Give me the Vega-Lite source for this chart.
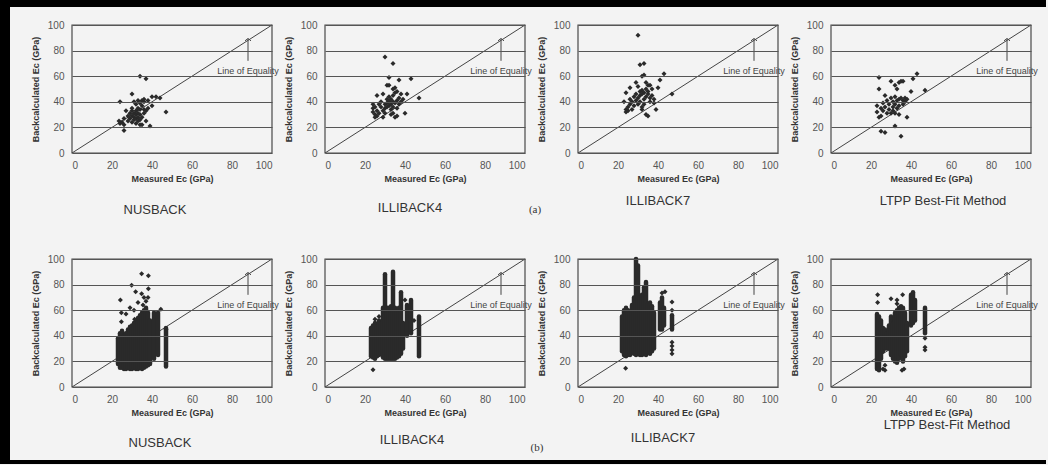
{
"$schema": "https://vega.github.io/schema/vega-lite/v6.json",
"background": "#f3f3f3",
"padding": {"left": 0, "top": 0, "right": 2, "bottom": 0},
"datasets": {
"a1": [{"x":24,"y":40},{"x":23.5,"y":25},{"x":24,"y":23},{"x":25,"y":24},{"x":26,"y":22},{"x":26,"y":17.5},{"x":26,"y":27},{"x":27,"y":33},{"x":28,"y":29},{"x":28,"y":25},{"x":29,"y":31},{"x":29,"y":27},{"x":30,"y":46},{"x":30,"y":35},{"x":30,"y":33},{"x":30,"y":29},{"x":30,"y":24},{"x":31,"y":40},{"x":31,"y":31},{"x":31,"y":28},{"x":31,"y":26},{"x":32,"y":38},{"x":32,"y":33},{"x":32,"y":30},{"x":32,"y":27},{"x":32,"y":23},{"x":33,"y":41},{"x":33,"y":35},{"x":33,"y":31},{"x":33,"y":28},{"x":33,"y":25},{"x":34,"y":60},{"x":34,"y":39},{"x":34,"y":34},{"x":34,"y":30},{"x":34,"y":26},{"x":34,"y":22},{"x":35,"y":41},{"x":35,"y":37},{"x":35,"y":28},{"x":35,"y":22},{"x":36,"y":42},{"x":36,"y":40},{"x":36,"y":34},{"x":36,"y":31},{"x":37,"y":58},{"x":37,"y":33},{"x":37,"y":25},{"x":38,"y":41},{"x":38,"y":35},{"x":39,"y":21},{"x":40,"y":37},{"x":40,"y":44},{"x":42,"y":44},{"x":44,"y":43},{"x":47,"y":32}],
"a2": [{"x":24,"y":38},{"x":24,"y":35},{"x":24,"y":32},{"x":25,"y":30},{"x":25,"y":28},{"x":25,"y":36},{"x":26,"y":45},{"x":26,"y":33},{"x":26,"y":29},{"x":27,"y":38},{"x":27,"y":31},{"x":28,"y":36},{"x":28,"y":40},{"x":29,"y":46},{"x":29,"y":33},{"x":29,"y":28},{"x":30,"y":75},{"x":30,"y":38},{"x":30,"y":35},{"x":30,"y":31},{"x":31,"y":53},{"x":31,"y":42},{"x":31,"y":39},{"x":31,"y":36},{"x":32,"y":59},{"x":32,"y":53},{"x":32,"y":44},{"x":32,"y":40},{"x":32,"y":37},{"x":33,"y":42},{"x":33,"y":38},{"x":33,"y":34},{"x":34,"y":70},{"x":34,"y":50},{"x":34,"y":45},{"x":34,"y":40},{"x":34,"y":36},{"x":34,"y":31},{"x":35,"y":51},{"x":35,"y":47},{"x":35,"y":39},{"x":35,"y":28},{"x":36,"y":48},{"x":36,"y":41},{"x":36,"y":29},{"x":37,"y":57},{"x":37,"y":43},{"x":37,"y":38},{"x":38,"y":46},{"x":38,"y":40},{"x":39,"y":42},{"x":40,"y":31},{"x":41,"y":46},{"x":43,"y":58},{"x":47,"y":43},{"x":36,"y":35},{"x":33,"y":30}],
"a3": [{"x":23,"y":40},{"x":24,"y":34},{"x":24,"y":32},{"x":24,"y":47},{"x":25,"y":36},{"x":25,"y":33},{"x":26,"y":51},{"x":26,"y":42},{"x":26,"y":38},{"x":27,"y":34},{"x":27,"y":40},{"x":28,"y":44},{"x":28,"y":37},{"x":29,"y":55},{"x":29,"y":46},{"x":29,"y":41},{"x":30,"y":92},{"x":30,"y":52},{"x":30,"y":43},{"x":30,"y":38},{"x":31,"y":69},{"x":31,"y":48},{"x":31,"y":45},{"x":31,"y":40},{"x":32,"y":60},{"x":32,"y":49},{"x":32,"y":46},{"x":32,"y":34},{"x":33,"y":61},{"x":33,"y":70},{"x":33,"y":47},{"x":33,"y":42},{"x":33,"y":38},{"x":34,"y":55},{"x":34,"y":50},{"x":34,"y":44},{"x":34,"y":30},{"x":35,"y":53},{"x":35,"y":46},{"x":35,"y":29},{"x":36,"y":53},{"x":36,"y":43},{"x":36,"y":40},{"x":37,"y":50},{"x":37,"y":45},{"x":38,"y":42},{"x":38,"y":39},{"x":39,"y":34},{"x":40,"y":51},{"x":41,"y":57},{"x":43,"y":62},{"x":47,"y":46},{"x":35,"y":48},{"x":32,"y":36}],
"a4": [{"x":23,"y":32},{"x":23,"y":37},{"x":24,"y":59},{"x":24,"y":50},{"x":24,"y":28},{"x":25,"y":29},{"x":25,"y":17},{"x":25,"y":35},{"x":26,"y":39},{"x":26,"y":33},{"x":27,"y":16},{"x":27,"y":45},{"x":27,"y":36},{"x":28,"y":41},{"x":28,"y":31},{"x":29,"y":38},{"x":29,"y":34},{"x":30,"y":56},{"x":30,"y":43},{"x":30,"y":31},{"x":31,"y":40},{"x":31,"y":36},{"x":31,"y":33},{"x":32,"y":53},{"x":32,"y":44},{"x":32,"y":38},{"x":32,"y":31},{"x":32,"y":21},{"x":33,"y":50},{"x":33,"y":41},{"x":33,"y":35},{"x":34,"y":55},{"x":34,"y":42},{"x":34,"y":37},{"x":34,"y":30},{"x":35,"y":56},{"x":35,"y":43},{"x":35,"y":13},{"x":36,"y":56},{"x":36,"y":41},{"x":36,"y":38},{"x":37,"y":43},{"x":37,"y":40},{"x":38,"y":28},{"x":38,"y":42},{"x":40,"y":48},{"x":41,"y":58},{"x":43,"y":62},{"x":47,"y":49}],
"b1s": [{"x":23,"lo":18,"hi":38},{"x":24,"lo":15,"hi":42},{"x":25,"lo":15,"hi":44},{"x":26,"lo":14,"hi":40},{"x":27,"lo":14,"hi":42},{"x":28,"lo":15,"hi":45},{"x":29,"lo":14,"hi":47},{"x":30,"lo":14,"hi":48},{"x":31,"lo":15,"hi":50},{"x":32,"lo":14,"hi":52},{"x":33,"lo":14,"hi":54},{"x":34,"lo":15,"hi":56},{"x":35,"lo":14,"hi":58},{"x":36,"lo":15,"hi":60},{"x":37,"lo":16,"hi":62},{"x":38,"lo":17,"hi":58},{"x":39,"lo":18,"hi":52},{"x":41,"lo":22,"hi":58},{"x":43,"lo":25,"hi":58},{"x":47,"lo":16,"hi":46}],
"b1p": [{"x":34.8,"y":88.5},{"x":38.2,"y":87},{"x":29.8,"y":79.4},{"x":31.8,"y":74.5},{"x":34.8,"y":72.9},{"x":38.2,"y":76.8},{"x":24.2,"y":68},{"x":24.7,"y":58},{"x":24.7,"y":51},{"x":31.3,"y":52.9},{"x":44.4,"y":60.7},{"x":47,"y":45},{"x":36,"y":70},{"x":33,"y":66},{"x":37,"y":67},{"x":29,"y":62},{"x":27,"y":57},{"x":35.5,"y":64},{"x":38,"y":70},{"x":31,"y":60}],
"b2s": [{"x":23,"lo":24,"hi":46},{"x":24,"lo":23,"hi":48},{"x":25,"lo":22,"hi":50},{"x":26,"lo":24,"hi":47},{"x":27,"lo":25,"hi":52},{"x":28,"lo":26,"hi":50},{"x":29,"lo":23,"hi":62},{"x":30,"lo":22,"hi":88},{"x":31,"lo":22,"hi":62},{"x":32,"lo":22,"hi":62},{"x":33,"lo":22,"hi":63},{"x":34,"lo":22,"hi":90},{"x":35,"lo":22,"hi":62},{"x":36,"lo":23,"hi":60},{"x":37,"lo":24,"hi":62},{"x":38,"lo":26,"hi":74},{"x":39,"lo":30,"hi":50},{"x":41,"lo":40,"hi":64},{"x":43,"lo":42,"hi":68},{"x":47,"lo":24,"hi":55}],
"b2p": [{"x":24,"y":13.5},{"x":44.5,"y":52},{"x":40,"y":68},{"x":27,"y":55},{"x":25,"y":53}],
"b3s": [{"x":22,"lo":28,"hi":55},{"x":23,"lo":25,"hi":60},{"x":24,"lo":24,"hi":62},{"x":25,"lo":25,"hi":60},{"x":26,"lo":25,"hi":58},{"x":27,"lo":27,"hi":64},{"x":28,"lo":26,"hi":70},{"x":29,"lo":25,"hi":100},{"x":30,"lo":26,"hi":95},{"x":31,"lo":25,"hi":70},{"x":32,"lo":25,"hi":72},{"x":33,"lo":26,"hi":78},{"x":34,"lo":25,"hi":82},{"x":35,"lo":27,"hi":65},{"x":36,"lo":26,"hi":66},{"x":37,"lo":28,"hi":63},{"x":38,"lo":30,"hi":58},{"x":41,"lo":45,"hi":66},{"x":42,"lo":45,"hi":70},{"x":43,"lo":48,"hi":62},{"x":47,"lo":45,"hi":56}],
"b3p": [{"x":42,"y":73.5},{"x":43.5,"y":74.5},{"x":47,"y":66.4},{"x":47,"y":35},{"x":47,"y":32},{"x":47,"y":29},{"x":47,"y":26},{"x":23.8,"y":14.7},{"x":47,"y":60}],
"b4s": [{"x":23,"lo":14,"hi":57},{"x":24,"lo":13,"hi":55},{"x":25,"lo":22,"hi":52},{"x":26,"lo":28,"hi":46},{"x":27,"lo":30,"hi":45},{"x":28,"lo":30,"hi":42},{"x":29,"lo":30,"hi":48},{"x":30,"lo":25,"hi":55},{"x":31,"lo":22,"hi":50},{"x":32,"lo":20,"hi":58},{"x":33,"lo":19,"hi":60},{"x":34,"lo":22,"hi":62},{"x":35,"lo":25,"hi":63},{"x":36,"lo":20,"hi":62},{"x":37,"lo":24,"hi":58},{"x":38,"lo":28,"hi":50},{"x":40,"lo":48,"hi":72},{"x":41,"lo":50,"hi":74},{"x":42,"lo":52,"hi":68},{"x":47,"lo":42,"hi":62}],
"b4p": [{"x":23.3,"y":72},{"x":23.3,"y":66},{"x":30,"y":69},{"x":33,"y":68},{"x":35.8,"y":72},{"x":35.5,"y":13},{"x":36.5,"y":14},{"x":47,"y":31},{"x":47,"y":29},{"x":47,"y":38},{"x":26,"y":14},{"x":27,"y":17},{"x":27,"y":13},{"x":33,"y":65}]
},
"columns": 4,
"spacing": {"row": 106, "column": 53},
"bounds": "flush",
"concat": [
{"width":200,"height":128,"layer":[
 {"data":{"values":[{}]},"mark":{"type":"rect","fill":"black"},"encoding":{"x":{"datum":-36,"type":"quantitative","scale":{"domain":[0,100]}},"x2":{"datum":-31},"y":{"datum":119.53,"type":"quantitative","scale":{"domain":[0,100]}},"y2":{"datum":-242.97}}},
 {"data":{"values":[{}]},"mark":{"type":"rect","fill":"black"},"encoding":{"x":{"datum":-36,"type":"quantitative","scale":{"domain":[0,100]}},"x2":{"datum":487},"y":{"datum":119.53,"type":"quantitative","scale":{"domain":[0,100]}},"y2":{"datum":114.06}}},
 {"data":{"values":[{}]},"mark":{"type":"rect","fill":"black"},"encoding":{"x":{"datum":-36,"type":"quantitative","scale":{"domain":[0,100]}},"x2":{"datum":487},"y":{"datum":-239.84,"type":"quantitative","scale":{"domain":[0,100]}},"y2":{"datum":-242.97}}},
 {"data":{"values":[{}]},"mark":{"type":"rect","fill":null,"stroke":"#4a4a4a","strokeWidth":1.2},"encoding":{"x":{"datum":0,"type":"quantitative","scale":{"domain":[0,100]},"axis":{"values":[0,20,40,60,80,100],"tickCount":6,"zindex":1,"title":"Measured Ec (GPa)"}},"x2":{"datum":100},"y":{"datum":0,"type":"quantitative","scale":{"domain":[0,100]},"axis":{"values":[0,20,40,60,80,100],"tickCount":6,"zindex":1,"title":"Backcalculated Ec (GPa)"}},"y2":{"datum":100}}},
 {"data":{"values":[{}]},"mark":{"type":"rule"},"encoding":{"x":{"datum":0,"type":"quantitative"},"y":{"datum":0,"type":"quantitative"},"x2":{"datum":100},"y2":{"datum":100}}},
 {"data":{"values":[{}]},"mark":{"type":"rule"},"encoding":{"x":{"datum":88,"type":"quantitative"},"y":{"datum":72,"type":"quantitative"},"y2":{"datum":89}}},
 {"data":{"values":[{}]},"mark":{"type":"point","shape":"M-1,0.8L0,0L1,0.8","filled":false,"stroke":"#444","strokeWidth":1,"size":36,"opacity":1},"encoding":{"x":{"datum":88,"type":"quantitative"},"y":{"datum":89.5,"type":"quantitative"}}},
 {"data":{"values":[{}]},"mark":{"type":"text","text":"Line of Equality","fontSize":9},"encoding":{"x":{"datum":88,"type":"quantitative"},"y":{"datum":64,"type":"quantitative"}}},
 {"data":{"name":"a1"},"mark":{"type":"point","shape":"diamond","filled":true,"size":25,"color":"#2a2a2a","opacity":1},"encoding":{"x":{"field":"x","type":"quantitative"},"y":{"field":"y","type":"quantitative"}}},
 {"data":{"values":[{}]},"mark":{"type":"text","text":"NUSBACK","fontSize":13,"color":"#333"},"encoding":{"x":{"datum":41.5,"type":"quantitative","scale":{"domain":[0,100]}},"y":{"datum":-44.5,"type":"quantitative","scale":{"domain":[0,100]}}}}
]},
{"width":200,"height":128,"layer":[
 {"data":{"values":[{}]},"mark":{"type":"rect","fill":null,"stroke":"#4a4a4a","strokeWidth":1.2},"encoding":{"x":{"datum":0,"type":"quantitative","scale":{"domain":[0,100]},"axis":{"values":[0,20,40,60,80,100],"tickCount":6,"zindex":1,"title":"Measured Ec (GPa)"}},"x2":{"datum":100},"y":{"datum":0,"type":"quantitative","scale":{"domain":[0,100]},"axis":{"values":[0,20,40,60,80,100],"tickCount":6,"zindex":1,"title":"Backcalculated Ec (GPa)"}},"y2":{"datum":100}}},
 {"data":{"values":[{}]},"mark":{"type":"rule"},"encoding":{"x":{"datum":0,"type":"quantitative"},"y":{"datum":0,"type":"quantitative"},"x2":{"datum":100},"y2":{"datum":100}}},
 {"data":{"values":[{}]},"mark":{"type":"rule"},"encoding":{"x":{"datum":88,"type":"quantitative"},"y":{"datum":72,"type":"quantitative"},"y2":{"datum":89}}},
 {"data":{"values":[{}]},"mark":{"type":"point","shape":"M-1,0.8L0,0L1,0.8","filled":false,"stroke":"#444","strokeWidth":1,"size":36,"opacity":1},"encoding":{"x":{"datum":88,"type":"quantitative"},"y":{"datum":89.5,"type":"quantitative"}}},
 {"data":{"values":[{}]},"mark":{"type":"text","text":"Line of Equality","fontSize":9},"encoding":{"x":{"datum":88,"type":"quantitative"},"y":{"datum":64,"type":"quantitative"}}},
 {"data":{"name":"a2"},"mark":{"type":"point","shape":"diamond","filled":true,"size":25,"color":"#2a2a2a","opacity":1},"encoding":{"x":{"field":"x","type":"quantitative"},"y":{"field":"y","type":"quantitative"}}},
 {"data":{"values":[{}]},"mark":{"type":"text","text":"ILLIBACK4","fontSize":13,"color":"#333"},"encoding":{"x":{"datum":42.5,"type":"quantitative","scale":{"domain":[0,100]}},"y":{"datum":-43,"type":"quantitative","scale":{"domain":[0,100]}}}},
 {"data":{"values":[{}]},"mark":{"type":"text","text":"(a)","fontSize":11,"font":"Liberation Serif","color":"#333"},"encoding":{"x":{"datum":105,"type":"quantitative","scale":{"domain":[0,100]}},"y":{"datum":-44.5,"type":"quantitative","scale":{"domain":[0,100]}}}}
]},
{"width":200,"height":128,"layer":[
 {"data":{"values":[{}]},"mark":{"type":"rect","fill":null,"stroke":"#4a4a4a","strokeWidth":1.2},"encoding":{"x":{"datum":0,"type":"quantitative","scale":{"domain":[0,100]},"axis":{"values":[0,20,40,60,80,100],"tickCount":6,"zindex":1,"title":"Measured Ec (GPa)"}},"x2":{"datum":100},"y":{"datum":0,"type":"quantitative","scale":{"domain":[0,100]},"axis":{"values":[0,20,40,60,80,100],"tickCount":6,"zindex":1,"title":"Backcalculated Ec (GPa)"}},"y2":{"datum":100}}},
 {"data":{"values":[{}]},"mark":{"type":"rule"},"encoding":{"x":{"datum":0,"type":"quantitative"},"y":{"datum":0,"type":"quantitative"},"x2":{"datum":100},"y2":{"datum":100}}},
 {"data":{"values":[{}]},"mark":{"type":"rule"},"encoding":{"x":{"datum":88,"type":"quantitative"},"y":{"datum":72,"type":"quantitative"},"y2":{"datum":89}}},
 {"data":{"values":[{}]},"mark":{"type":"point","shape":"M-1,0.8L0,0L1,0.8","filled":false,"stroke":"#444","strokeWidth":1,"size":36,"opacity":1},"encoding":{"x":{"datum":88,"type":"quantitative"},"y":{"datum":89.5,"type":"quantitative"}}},
 {"data":{"values":[{}]},"mark":{"type":"text","text":"Line of Equality","fontSize":9},"encoding":{"x":{"datum":88,"type":"quantitative"},"y":{"datum":64,"type":"quantitative"}}},
 {"data":{"name":"a3"},"mark":{"type":"point","shape":"diamond","filled":true,"size":25,"color":"#2a2a2a","opacity":1},"encoding":{"x":{"field":"x","type":"quantitative"},"y":{"field":"y","type":"quantitative"}}},
 {"data":{"values":[{}]},"mark":{"type":"text","text":"ILLIBACK7","fontSize":13,"color":"#333"},"encoding":{"x":{"datum":40,"type":"quantitative","scale":{"domain":[0,100]}},"y":{"datum":-37.5,"type":"quantitative","scale":{"domain":[0,100]}}}}
]},
{"width":200,"height":128,"layer":[
 {"data":{"values":[{}]},"mark":{"type":"rect","fill":null,"stroke":"#4a4a4a","strokeWidth":1.2},"encoding":{"x":{"datum":0,"type":"quantitative","scale":{"domain":[0,100]},"axis":{"values":[0,20,40,60,80,100],"tickCount":6,"zindex":1,"title":"Measured Ec (GPa)"}},"x2":{"datum":100},"y":{"datum":0,"type":"quantitative","scale":{"domain":[0,100]},"axis":{"values":[0,20,40,60,80,100],"tickCount":6,"zindex":1,"title":"Backcalculated Ec (GPa)"}},"y2":{"datum":100}}},
 {"data":{"values":[{}]},"mark":{"type":"rule"},"encoding":{"x":{"datum":0,"type":"quantitative"},"y":{"datum":0,"type":"quantitative"},"x2":{"datum":100},"y2":{"datum":100}}},
 {"data":{"values":[{}]},"mark":{"type":"rule"},"encoding":{"x":{"datum":88,"type":"quantitative"},"y":{"datum":72,"type":"quantitative"},"y2":{"datum":89}}},
 {"data":{"values":[{}]},"mark":{"type":"point","shape":"M-1,0.8L0,0L1,0.8","filled":false,"stroke":"#444","strokeWidth":1,"size":36,"opacity":1},"encoding":{"x":{"datum":88,"type":"quantitative"},"y":{"datum":89.5,"type":"quantitative"}}},
 {"data":{"values":[{}]},"mark":{"type":"text","text":"Line of Equality","fontSize":9},"encoding":{"x":{"datum":88,"type":"quantitative"},"y":{"datum":64,"type":"quantitative"}}},
 {"data":{"name":"a4"},"mark":{"type":"point","shape":"diamond","filled":true,"size":25,"color":"#2a2a2a","opacity":1},"encoding":{"x":{"field":"x","type":"quantitative"},"y":{"field":"y","type":"quantitative"}}},
 {"data":{"values":[{}]},"mark":{"type":"text","text":"LTPP Best-Fit Method","fontSize":13,"color":"#333"},"encoding":{"x":{"datum":56,"type":"quantitative","scale":{"domain":[0,100]}},"y":{"datum":-37.5,"type":"quantitative","scale":{"domain":[0,100]}}}}
]},
{"width":200,"height":128,"layer":[
 {"data":{"values":[{}]},"mark":{"type":"rect","fill":null,"stroke":"#4a4a4a","strokeWidth":1.2},"encoding":{"x":{"datum":0,"type":"quantitative","scale":{"domain":[0,100]},"axis":{"values":[0,20,40,60,80,100],"tickCount":6,"zindex":1,"title":"Measured Ec (GPa)"}},"x2":{"datum":100},"y":{"datum":0,"type":"quantitative","scale":{"domain":[0,100]},"axis":{"values":[0,20,40,60,80,100],"tickCount":6,"zindex":1,"title":"Backcalculated Ec (GPa)"}},"y2":{"datum":100}}},
 {"data":{"values":[{}]},"mark":{"type":"rule"},"encoding":{"x":{"datum":0,"type":"quantitative"},"y":{"datum":0,"type":"quantitative"},"x2":{"datum":100},"y2":{"datum":100}}},
 {"data":{"values":[{}]},"mark":{"type":"rule"},"encoding":{"x":{"datum":88,"type":"quantitative"},"y":{"datum":72,"type":"quantitative"},"y2":{"datum":89}}},
 {"data":{"values":[{}]},"mark":{"type":"point","shape":"M-1,0.8L0,0L1,0.8","filled":false,"stroke":"#444","strokeWidth":1,"size":36,"opacity":1},"encoding":{"x":{"datum":88,"type":"quantitative"},"y":{"datum":89.5,"type":"quantitative"}}},
 {"data":{"values":[{}]},"mark":{"type":"text","text":"Line of Equality","fontSize":9},"encoding":{"x":{"datum":88,"type":"quantitative"},"y":{"datum":64,"type":"quantitative"}}},
 {"data":{"name":"b1s"},"mark":{"type":"rule","strokeWidth":4.5,"strokeCap":"round","color":"#2a2a2a"},"encoding":{"x":{"field":"x","type":"quantitative"},"y":{"field":"lo","type":"quantitative"},"y2":{"field":"hi"}}},
 {"data":{"name":"b1p"},"mark":{"type":"point","shape":"diamond","filled":true,"size":25,"color":"#2a2a2a","opacity":1},"encoding":{"x":{"field":"x","type":"quantitative"},"y":{"field":"y","type":"quantitative"}}},
 {"data":{"values":[{}]},"mark":{"type":"text","text":"NUSBACK","fontSize":13,"color":"#333"},"encoding":{"x":{"datum":44,"type":"quantitative","scale":{"domain":[0,100]}},"y":{"datum":-43.75,"type":"quantitative","scale":{"domain":[0,100]}}}}
]},
{"width":200,"height":128,"layer":[
 {"data":{"values":[{}]},"mark":{"type":"rect","fill":null,"stroke":"#4a4a4a","strokeWidth":1.2},"encoding":{"x":{"datum":0,"type":"quantitative","scale":{"domain":[0,100]},"axis":{"values":[0,20,40,60,80,100],"tickCount":6,"zindex":1,"title":"Measured Ec (GPa)"}},"x2":{"datum":100},"y":{"datum":0,"type":"quantitative","scale":{"domain":[0,100]},"axis":{"values":[0,20,40,60,80,100],"tickCount":6,"zindex":1,"title":"Backcalculated Ec (GPa)"}},"y2":{"datum":100}}},
 {"data":{"values":[{}]},"mark":{"type":"rule"},"encoding":{"x":{"datum":0,"type":"quantitative"},"y":{"datum":0,"type":"quantitative"},"x2":{"datum":100},"y2":{"datum":100}}},
 {"data":{"values":[{}]},"mark":{"type":"rule"},"encoding":{"x":{"datum":88,"type":"quantitative"},"y":{"datum":72,"type":"quantitative"},"y2":{"datum":89}}},
 {"data":{"values":[{}]},"mark":{"type":"point","shape":"M-1,0.8L0,0L1,0.8","filled":false,"stroke":"#444","strokeWidth":1,"size":36,"opacity":1},"encoding":{"x":{"datum":88,"type":"quantitative"},"y":{"datum":89.5,"type":"quantitative"}}},
 {"data":{"values":[{}]},"mark":{"type":"text","text":"Line of Equality","fontSize":9},"encoding":{"x":{"datum":88,"type":"quantitative"},"y":{"datum":64,"type":"quantitative"}}},
 {"data":{"name":"b2s"},"mark":{"type":"rule","strokeWidth":4.5,"strokeCap":"round","color":"#2a2a2a"},"encoding":{"x":{"field":"x","type":"quantitative"},"y":{"field":"lo","type":"quantitative"},"y2":{"field":"hi"}}},
 {"data":{"name":"b2p"},"mark":{"type":"point","shape":"diamond","filled":true,"size":25,"color":"#2a2a2a","opacity":1},"encoding":{"x":{"field":"x","type":"quantitative"},"y":{"field":"y","type":"quantitative"}}},
 {"data":{"values":[{}]},"mark":{"type":"text","text":"ILLIBACK4","fontSize":13,"color":"#333"},"encoding":{"x":{"datum":43.5,"type":"quantitative","scale":{"domain":[0,100]}},"y":{"datum":-41.4,"type":"quantitative","scale":{"domain":[0,100]}}}},
 {"data":{"values":[{}]},"mark":{"type":"text","text":"(b)","fontSize":11,"font":"Liberation Serif","color":"#333"},"encoding":{"x":{"datum":106,"type":"quantitative","scale":{"domain":[0,100]}},"y":{"datum":-47.7,"type":"quantitative","scale":{"domain":[0,100]}}}}
]},
{"width":200,"height":128,"layer":[
 {"data":{"values":[{}]},"mark":{"type":"rect","fill":null,"stroke":"#4a4a4a","strokeWidth":1.2},"encoding":{"x":{"datum":0,"type":"quantitative","scale":{"domain":[0,100]},"axis":{"values":[0,20,40,60,80,100],"tickCount":6,"zindex":1,"title":"Measured Ec (GPa)"}},"x2":{"datum":100},"y":{"datum":0,"type":"quantitative","scale":{"domain":[0,100]},"axis":{"values":[0,20,40,60,80,100],"tickCount":6,"zindex":1,"title":"Backcalculated Ec (GPa)"}},"y2":{"datum":100}}},
 {"data":{"values":[{}]},"mark":{"type":"rule"},"encoding":{"x":{"datum":0,"type":"quantitative"},"y":{"datum":0,"type":"quantitative"},"x2":{"datum":100},"y2":{"datum":100}}},
 {"data":{"values":[{}]},"mark":{"type":"rule"},"encoding":{"x":{"datum":88,"type":"quantitative"},"y":{"datum":72,"type":"quantitative"},"y2":{"datum":89}}},
 {"data":{"values":[{}]},"mark":{"type":"point","shape":"M-1,0.8L0,0L1,0.8","filled":false,"stroke":"#444","strokeWidth":1,"size":36,"opacity":1},"encoding":{"x":{"datum":88,"type":"quantitative"},"y":{"datum":89.5,"type":"quantitative"}}},
 {"data":{"values":[{}]},"mark":{"type":"text","text":"Line of Equality","fontSize":9},"encoding":{"x":{"datum":88,"type":"quantitative"},"y":{"datum":64,"type":"quantitative"}}},
 {"data":{"name":"b3s"},"mark":{"type":"rule","strokeWidth":4.5,"strokeCap":"round","color":"#2a2a2a"},"encoding":{"x":{"field":"x","type":"quantitative"},"y":{"field":"lo","type":"quantitative"},"y2":{"field":"hi"}}},
 {"data":{"name":"b3p"},"mark":{"type":"point","shape":"diamond","filled":true,"size":25,"color":"#2a2a2a","opacity":1},"encoding":{"x":{"field":"x","type":"quantitative"},"y":{"field":"y","type":"quantitative"}}},
 {"data":{"values":[{}]},"mark":{"type":"text","text":"ILLIBACK7","fontSize":13,"color":"#333"},"encoding":{"x":{"datum":42.5,"type":"quantitative","scale":{"domain":[0,100]}},"y":{"datum":-39.8,"type":"quantitative","scale":{"domain":[0,100]}}}}
]},
{"width":200,"height":128,"layer":[
 {"data":{"values":[{}]},"mark":{"type":"rect","fill":null,"stroke":"#4a4a4a","strokeWidth":1.2},"encoding":{"x":{"datum":0,"type":"quantitative","scale":{"domain":[0,100]},"axis":{"values":[0,20,40,60,80,100],"tickCount":6,"zindex":1,"title":"Measured Ec (GPa)"}},"x2":{"datum":100},"y":{"datum":0,"type":"quantitative","scale":{"domain":[0,100]},"axis":{"values":[0,20,40,60,80,100],"tickCount":6,"zindex":1,"title":"Backcalculated Ec (GPa)"}},"y2":{"datum":100}}},
 {"data":{"values":[{}]},"mark":{"type":"rule"},"encoding":{"x":{"datum":0,"type":"quantitative"},"y":{"datum":0,"type":"quantitative"},"x2":{"datum":100},"y2":{"datum":100}}},
 {"data":{"values":[{}]},"mark":{"type":"rule"},"encoding":{"x":{"datum":88,"type":"quantitative"},"y":{"datum":72,"type":"quantitative"},"y2":{"datum":89}}},
 {"data":{"values":[{}]},"mark":{"type":"point","shape":"M-1,0.8L0,0L1,0.8","filled":false,"stroke":"#444","strokeWidth":1,"size":36,"opacity":1},"encoding":{"x":{"datum":88,"type":"quantitative"},"y":{"datum":89.5,"type":"quantitative"}}},
 {"data":{"values":[{}]},"mark":{"type":"text","text":"Line of Equality","fontSize":9},"encoding":{"x":{"datum":88,"type":"quantitative"},"y":{"datum":64,"type":"quantitative"}}},
 {"data":{"name":"b4s"},"mark":{"type":"rule","strokeWidth":4.5,"strokeCap":"round","color":"#2a2a2a"},"encoding":{"x":{"field":"x","type":"quantitative"},"y":{"field":"lo","type":"quantitative"},"y2":{"field":"hi"}}},
 {"data":{"name":"b4p"},"mark":{"type":"point","shape":"diamond","filled":true,"size":25,"color":"#2a2a2a","opacity":1},"encoding":{"x":{"field":"x","type":"quantitative"},"y":{"field":"y","type":"quantitative"}}},
 {"data":{"values":[{}]},"mark":{"type":"text","text":"LTPP Best-Fit Method","fontSize":13,"color":"#333"},"encoding":{"x":{"datum":58,"type":"quantitative","scale":{"domain":[0,100]}},"y":{"datum":-29.7,"type":"quantitative","scale":{"domain":[0,100]}}}}
]}
],
"config": {
 "view": {"stroke": null},
 "font": "Liberation Sans",
 "text": {"font": "Liberation Sans", "color": "#444"},
 "rule": {"color": "#444", "strokeWidth": 1},
 "axis": {"zindex": 1, "domain": false, "ticks": false, "labelFont": "Liberation Sans", "labelFontSize": 10, "labelColor": "#555", "titleFont": "Liberation Sans", "titleFontSize": 9, "titleFontWeight": "bold", "titleColor": "#333"},
 "axisX": {"grid": false, "labelPadding": 7, "titlePadding": 4},
 "axisY": {"grid": true, "gridColor": "#555", "gridWidth": 1.2, "gridOpacity": 1, "labelPadding": 8, "titlePadding": 7}
}
}
